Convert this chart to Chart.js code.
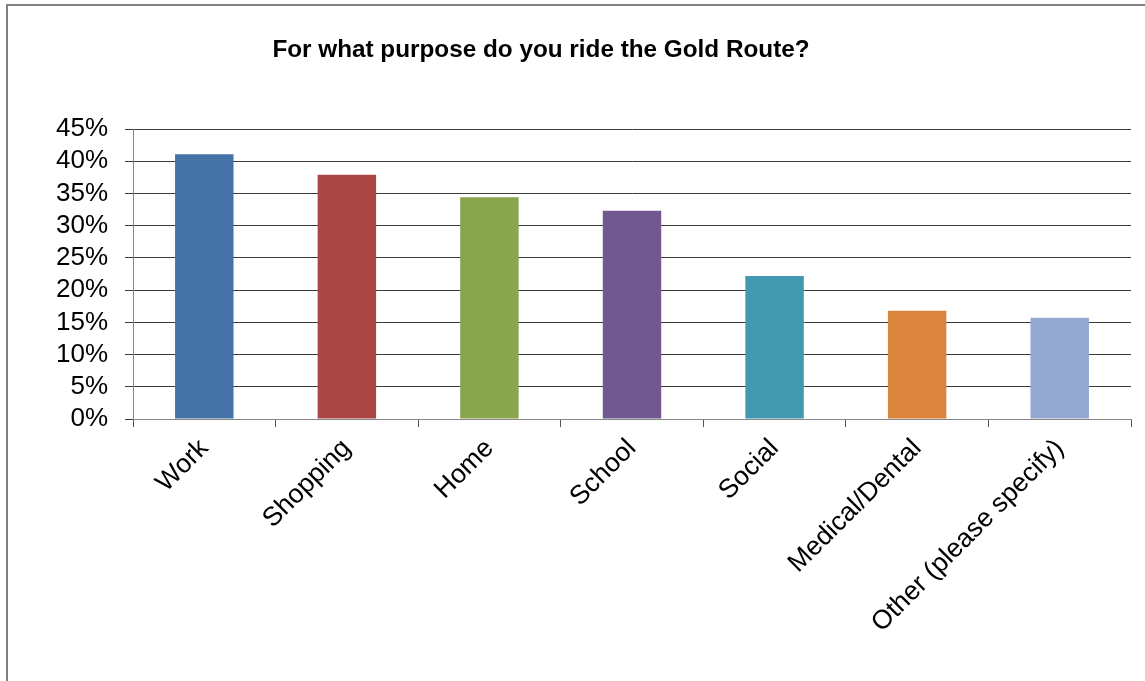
<!DOCTYPE html>
<html>
<head>
<meta charset="utf-8">
<script src="https://cdn.jsdelivr.net/npm/chart.js@4"></script>
<style>
  body { margin: 0; background: #fff; }
  #wrap { position: relative; width: 1145px; height: 681px; }
  #frame { position: absolute; left: 6px; top: 4px; right: -10px; bottom: -10px;
           border-left: 2px solid #808080; border-top: 2px solid #808080; }
  canvas { position: absolute; left: 0; top: 0; }
</style>
</head>
<body>
<div id="wrap">
  <div id="frame"></div>
  <canvas id="chart" width="1145" height="681"></canvas>
</div>
<script>
const chartTitle = 'For what purpose do you ride the Gold Route?';
const purposes = ['Work', 'Shopping', 'Home', 'School', 'Social', 'Medical/Dental', 'Other (please specify)'];
const shares = [41.1, 37.9, 34.4, 32.3, 22.2, 16.8, 15.7];
const barColors = ['#4572A7', '#AA4643', '#89A54E', '#71588F', '#4198AF', '#DB843D', '#93A9CF'];

const fontFamily = '"Liberation Sans", Arial, sans-serif';

// title sits left of the plot centre, like the original
const titlePlugin = {
    id: 'titleText',
    afterDraw(chart) {
        const ctx = chart.ctx;
        ctx.save();
        ctx.font = 'bold 24.3px ' + fontFamily;
        ctx.fillStyle = '#000';
        ctx.textAlign = 'center';
        ctx.textBaseline = 'alphabetic';
        ctx.fillText(chartTitle, 541, 57);
        ctx.restore();
    }
};

const ctx = document.getElementById('chart').getContext('2d');
new Chart(ctx, {
    type: 'bar',
    data: {
        labels: purposes,
        datasets: [{
            data: shares,
            backgroundColor: barColors,
            barPercentage: 0.41,
            categoryPercentage: 1,
        }]
    },
    options: {
        responsive: false,
        animation: false,
        layout: { padding: { top: 129, right: 14, left: 0, bottom: 0 } },
        plugins: { legend: { display: false }, tooltip: { enabled: false } },
        scales: {
            y: {
                min: 0,
                max: 45,
                ticks: {
                    stepSize: 5,
                    autoSkip: false,
                    padding: 17,
                    color: '#000',
                    font: { family: fontFamily, size: 26 },
                    callback: v => v + '%'
                },
                grid: {
                    color: ctx => ctx.tick && ctx.tick.value === 0 ? '#868686' : '#3a3a3a',
                    tickColor: '#3a3a3a',
                    tickLength: 8,
                },
                border: { color: '#868686' },
                afterFit(scale) { scale.width = 133; }
            },
            x: {
                ticks: {
                    minRotation: 45,
                    maxRotation: 45,
                    autoSkip: false,
                    padding: 6,
                    color: '#000',
                    font: { family: fontFamily, size: 26.5 },
                },
                grid: {
                    drawOnChartArea: false,
                    tickLength: 8,
                    tickColor: '#555',
                },
                border: { color: '#868686' },
                afterFit(scale) { scale.height = 262; }
            }
        }
    },
    plugins: [titlePlugin]
});
</script>
</body>
</html>
